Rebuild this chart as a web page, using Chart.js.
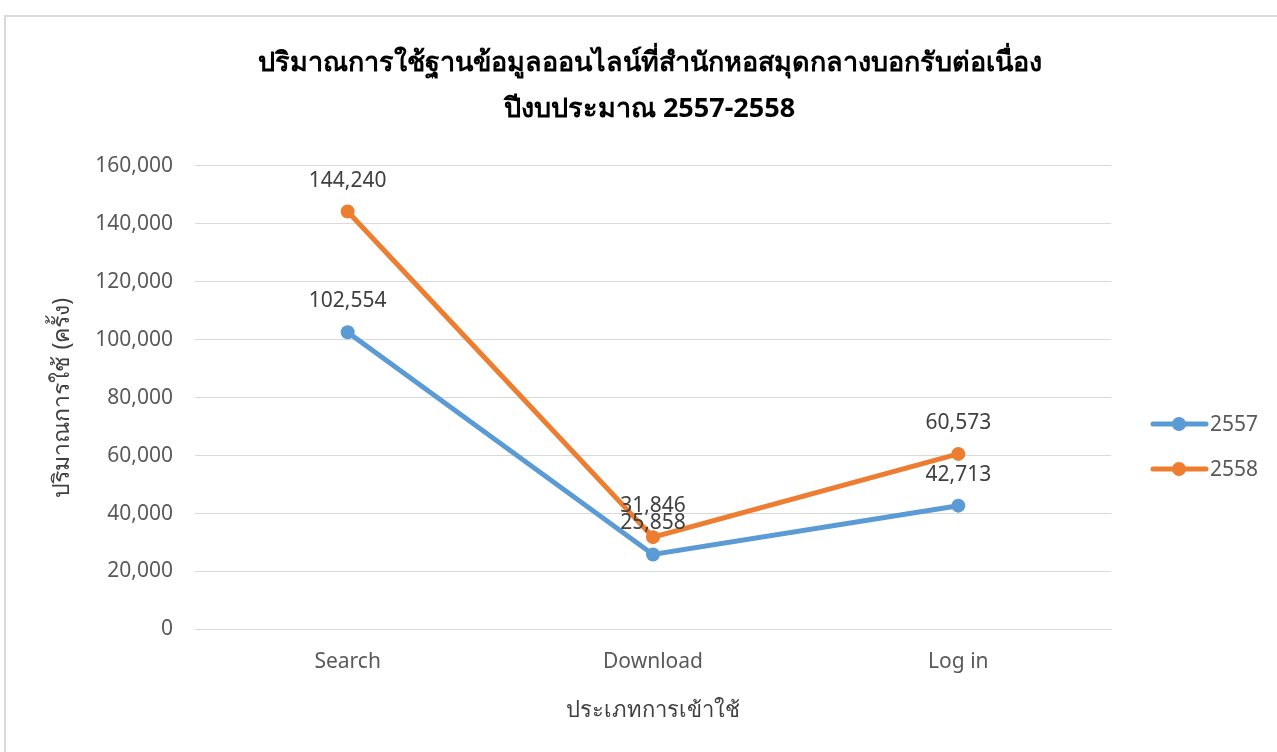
<!DOCTYPE html>
<html>
<head>
<meta charset="utf-8">
<script src="https://cdn.jsdelivr.net/npm/chart.js@4"></script>
<style>
  body { margin: 0; background: #fff; }
  #frame { position: absolute; left: 4px; top: 15px; width: 1300px; height: 760px; border: 2px solid #d9d9d9; }
  #chart { position: absolute; left: 0; top: 0; }
</style>
</head>
<body>
<div id="frame"></div>
<canvas id="chart" width="1277" height="752"></canvas>
<script>
// Chart data
const categories = ['Search', 'Download', 'Log in'];
const seriesNames = ['2557', '2558'];
const values2557 = [102554, 25858, 42713];
const values2558 = [144240, 31846, 60573];
const seriesColors = ['#5B9BD5', '#ED7D31'];

const titleLines = ['ปริมาณการใช้ฐานข้อมูลออนไลน์ที่สำนักหอสมุดกลางบอกรับต่อเนื่อง', 'ปีงบประมาณ 2557-2558'];
const xTitle = 'ประเภทการเข้าใช้';
const yTitle = 'ปริมาณการใช้ (ครั้ง)';

const baseFont = '"Noto Sans", "Open Sans", sans-serif';

// Draws value labels above each point
const valueLabels = {
    id: 'valueLabels',
    afterDatasetsDraw(chart) {
        const c = chart.ctx;
        c.save();
        c.font = '21px ' + baseFont;
        c.fillStyle = '#404040';
        c.textAlign = 'center';
        c.textBaseline = 'middle';
        chart.data.datasets.forEach((ds, i) => {
            chart.getDatasetMeta(i).data.forEach((pt, j) => {
                c.fillText(ds.data[j].toLocaleString('en-US'), pt.x, pt.y - 31);
            });
        });
        c.restore();
    }
};

// Legend on the right: line with a dot, then the series name
const sideLegend = {
    id: 'sideLegend',
    afterDraw(chart) {
        const c = chart.ctx;
        const rows = [424, 469];
        c.save();
        chart.data.datasets.forEach((ds, i) => {
            const y = rows[i];
            c.strokeStyle = ds.borderColor;
            c.lineWidth = 5;
            c.lineCap = 'round';
            c.beginPath();
            c.moveTo(1153, y);
            c.lineTo(1206, y);
            c.stroke();
            c.fillStyle = ds.borderColor;
            c.beginPath();
            c.arc(1179, y, 7, 0, Math.PI * 2);
            c.fill();
            c.font = '21px ' + baseFont;
            c.fillStyle = '#595959';
            c.textAlign = 'left';
            c.textBaseline = 'middle';
            c.fillText(ds.label, 1210, y + 1);
        });
        c.restore();
    }
};

const ctx = document.getElementById('chart').getContext('2d');

new Chart(ctx, {
    type: 'line',
    data: {
        labels: categories,
        datasets: [
            {
                label: seriesNames[0],
                data: values2557,
                borderColor: seriesColors[0],
                backgroundColor: seriesColors[0],
                borderWidth: 5,
                pointRadius: 7,
                pointBorderWidth: 0,
                tension: 0
            },
            {
                label: seriesNames[1],
                data: values2558,
                borderColor: seriesColors[1],
                backgroundColor: seriesColors[1],
                borderWidth: 5,
                pointRadius: 7,
                pointBorderWidth: 0,
                tension: 0
            }
        ]
    },
    options: {
        responsive: false,
        animation: false,
        layout: { padding: { left: 22, right: 0, top: 0, bottom: 24 } },
        plugins: {
            legend: { display: false },
            tooltip: { enabled: false },
            title: {
                display: true,
                text: titleLines,
                color: '#000000',
                font: { family: baseFont, size: 27, weight: 'bold', lineHeight: 1.72 },
                padding: { top: 40, bottom: 33 }
            }
        },
        scales: {
            x: {
                offset: true,
                grid: { display: false, drawTicks: false },
                border: { display: true, color: '#d9d9d9', width: 1 },
                ticks: { color: '#595959', font: { family: baseFont, size: 21 }, padding: 20 },
                title: {
                    display: true,
                    text: xTitle,
                    color: '#404040',
                    font: { family: baseFont, size: 22 },
                    padding: { top: 3, bottom: 4 }
                }
            },
            y: {
                min: 0,
                max: 160000,
                grid: { color: '#d9d9d9', drawTicks: false },
                border: { display: false },
                ticks: {
                    stepSize: 20000,
                    color: '#595959',
                    font: { family: baseFont, size: 21 },
                    padding: 22,
                    callback: v => v.toLocaleString('en-US')
                },
                title: {
                    display: true,
                    text: yTitle,
                    color: '#404040',
                    font: { family: baseFont, size: 23 },
                    padding: { top: 27, bottom: 0 }
                },
                afterFit(scale) { scale.width = 173; }
            },
            // empty axis that keeps room for the legend on the right
            yRight: {
                position: 'right',
                display: true,
                grid: { display: false, drawTicks: false },
                border: { display: false },
                ticks: { display: false },
                afterFit(scale) { scale.width = 166; }
            }
        }
    },
    plugins: [valueLabels, sideLegend]
});
</script>
</body>
</html>
